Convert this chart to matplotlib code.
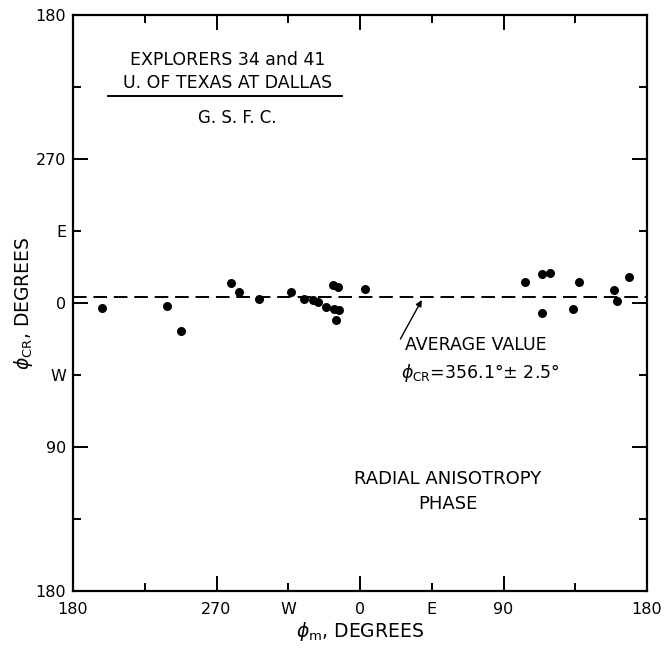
import matplotlib
matplotlib.use("Agg")
import matplotlib.pyplot as plt
import numpy as np

plt.rcParams["font.family"] = ["DejaVu Sans"]
plt.rcParams["mathtext.fontset"] = "dejavusans"

# longitudine magnetica (phi_m) e fase dell'anisotropia (phi_CR), in gradi
phi_m = [198.0, 239.2, 247.8, 279.3, 284.1, 296.9, 317.0, 325.1, 330.8,
         333.9, 338.5, 343.3, 346.1, 343.7, 346.9, 344.8, 3.2, 103.6,
         114.4, 119.1, 114.2, 137.2, 133.5, 159.6, 161.1, 168.4]
phi_cr = [3.3, 1.9, 17.7, 347.7, 353.1, 357.5, 353.3, 357.3, 358.3,
          359.4, 2.7, 348.6, 349.8, 3.6, 4.2, 10.4, 351.1, 346.9,
          341.9, 341.4, 6.4, 346.7, 3.9, 351.7, 358.8, 343.6]
avg_phase = 356.1

major_ticks = [180, 270, 360, 450, 540]
major_labels = ["180", "270", "0", "90", "180"]
minor_ticks = [225, 315, 405, 495]
x_minor_labels = ["", "W", "E", ""]
y_minor_labels = ["", "E", "W", ""]


def unwrap(v):
    # porta gli angoli nell'intervallo 180..540 dell'asse
    v = np.asarray(v, dtype=float)
    return np.where(v < 180, v + 360, v)


fig = plt.figure(figsize=(6.67, 6.5), dpi=100)
ax = fig.add_axes([73 / 667, 59 / 650, 574 / 667, 576 / 650])

ax.scatter(unwrap(phi_m), unwrap(phi_cr), s=42, color="black", zorder=3,
           linewidths=0)
ax.axhline(avg_phase, color="black", lw=1.4, linestyle=(0, (7, 3.5)))

ax.set_xlim(180, 540)
ax.set_ylim(540, 180)

for axis, minor_labels in ((ax.xaxis, x_minor_labels), (ax.yaxis, y_minor_labels)):
    axis.set_ticks(major_ticks)
    axis.set_ticklabels(major_labels)
    axis.set_ticks(minor_ticks, minor=True)
    axis.set_ticklabels(minor_labels, minor=True)

ax.tick_params(which="both", direction="in", top=True, right=True,
               width=1.4, labelsize=11.5, colors="black")
ax.tick_params(which="major", length=11)
ax.tick_params(which="minor", length=6)
ax.tick_params(axis="x", which="both", pad=8)
ax.tick_params(axis="y", which="both", pad=5)
for sp in ax.spines.values():
    sp.set_linewidth(1.6)

ax.set_xlabel(r"$\phi_{\mathrm{m}}$, DEGREES", fontsize=13.5, labelpad=2)
ax.set_ylabel(r"$\phi_{\mathrm{CR}}$, DEGREES", fontsize=13.5, labelpad=0)

# riquadro in alto a sinistra
ax.text(277, 208, "EXPLORERS 34 and 41", ha="center", va="center", fontsize=12.5)
ax.text(277, 222.5, "U. OF TEXAS AT DALLAS", ha="center", va="center", fontsize=12.5)
ax.plot([202, 349], [230.8, 230.8], color="black", lw=1.4)
ax.text(283, 244.4, "G. S. F. C.", ha="center", va="center", fontsize=12)

# valore medio
ax.annotate("", xy=(399.6, 356.6), xytext=(384.5, 384.0),
            arrowprops=dict(arrowstyle="-|>", color="black", lw=1.0,
                            mutation_scale=9))
ax.text(388.5, 386.3, "AVERAGE VALUE", ha="left", va="center", fontsize=12.5)
ax.text(386, 403.5, r"$\phi_{\mathrm{CR}}$=356.1°± 2.5°", ha="left",
        va="center", fontsize=12.5)

ax.text(415, 470, "RADIAL ANISOTROPY", ha="center", va="center", fontsize=13)
ax.text(415, 485.6, "PHASE", ha="center", va="center", fontsize=13)

fig.savefig("out.png", dpi=100)
